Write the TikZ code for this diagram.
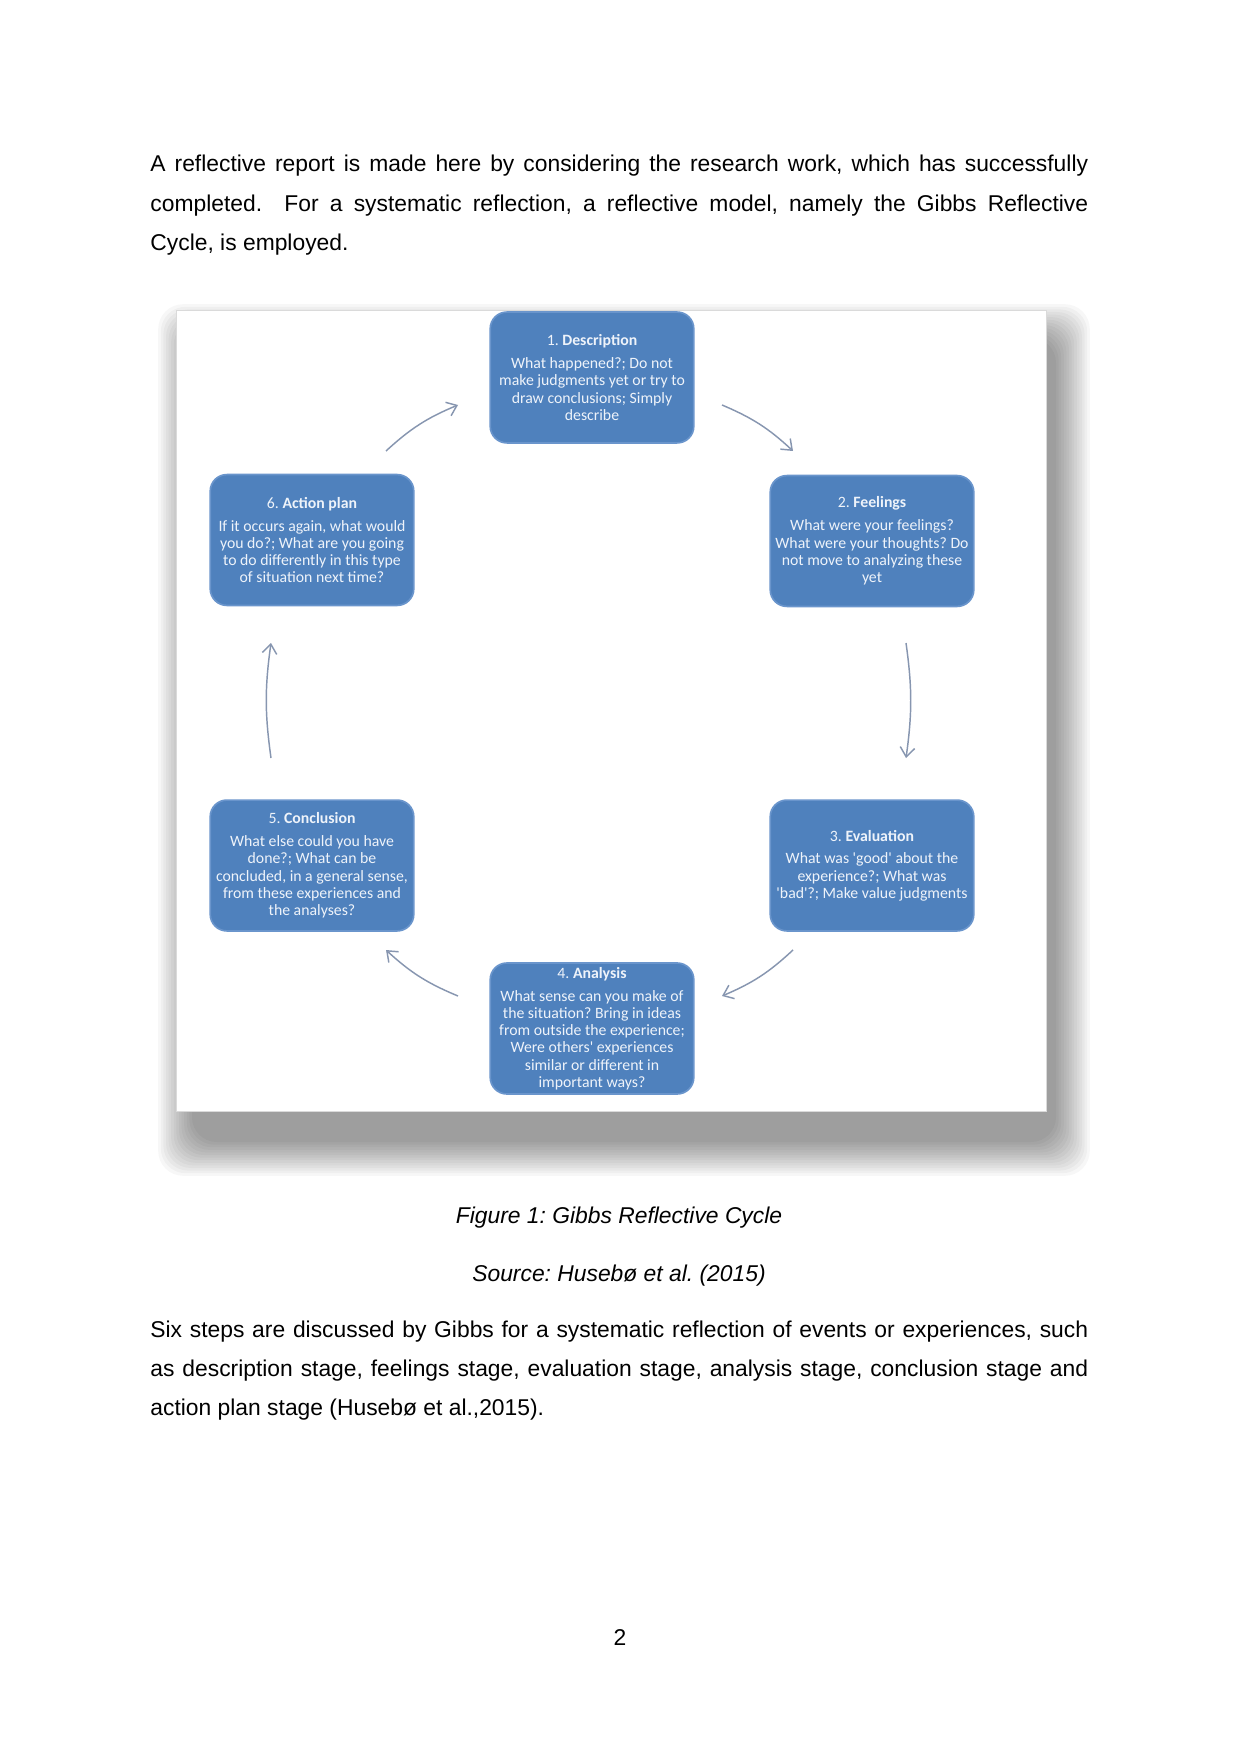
\documentclass[tikz,border=0pt]{standalone}
\usepackage{fontspec}
\setmainfont{Liberation Sans}
\newfontfamily\stagefont{Carlito}
\usetikzlibrary{arrows.meta,positioning}
\definecolor{StageBlue} {HTML}{4F81BD}
\definecolor{StageEdge} {HTML}{6A95CC}
\definecolor{StageText} {HTML}{EEF3FA}
\definecolor{ArrowGray} {HTML}{8796B0}
\definecolor{FrameLine} {HTML}{DADADA}
\tikzset{
  stage/.style={rectangle,rounded corners=8pt,fill=StageBlue,draw=StageEdge,
                line width=0.8pt,minimum width=98pt,minimum height=63pt,
                inner sep=2pt,align=center,text=StageText,
                font=\stagefont\fontsize{7.6}{8.3}\selectfont},
  cyc/.style={-{Straight Barb[length=4.5pt,width=7pt]},line width=0.7pt,
              draw=ArrowGray},
  bodytext/.style={inner sep=0pt,anchor=base west},
  captext/.style={inner sep=0pt,anchor=base,
                  font=\fontsize{11}{19}\selectfont\itshape},
}
\frenchspacing

\begin{document}
\begin{tikzpicture}[x=0.0169218cm,y=0.0169218cm]

  \useasboundingbox (0,0) rectangle (1241,-1754);
  \fill[white] (0,0) rectangle (1241,-1754);

  \node[bodytext] (intro) at (150,-172)
    {\parbox[t]{451.5pt}{\fontsize{11}{19}\selectfont
     A reflective report is made here by considering the research work, which has successfully\linebreak
     completed.\ \ For a systematic reflection, a reflective model, namely the Gibbs Reflective\linebreak
     Cycle, is employed.}};

  % soft shadow under the figure
  \foreach \i in {0,...,13}
    \fill[black,opacity=0.03,rounded corners=12pt]
      (192-2.6*\i,-338+2.6*\i) rectangle (1056+2.6*\i,-1142-2.6*\i);
  \draw[FrameLine,fill=white] (176,-310) rectangle (1046,-1111);

  \node[stage] (desc) at (592,-377.5)
    {1. \textbf{Description}\\[2.7pt]
     What happened?; Do not\\ make judgments yet or try to\\
     draw conclusions; Simply\\ describe};

  \node[stage] (feel) at (872,-541)
    {2. \textbf{Feelings}\\[2.7pt]
     What were your feelings?\\ What were your thoughts? Do\\
     not move to analyzing these\\ yet};

  \node[stage] (eval) at (872,-865.5)
    {3. \textbf{Evaluation}\\[2.7pt]
     What was 'good' about the\\ experience?; What was\\
     'bad'?; Make value judgments};

  \node[stage] (anal) at (592,-1028.5)
    {4. \textbf{Analysis}\\[2.7pt]
     What sense can you make of\\ the situation? Bring in ideas\\
     from outside the experience;\\ Were others' experiences\\
     similar or different in\\ important ways?};

  \node[stage] (conc) at (312,-865.5)
    {5. \textbf{Conclusion}\\[2.7pt]
     What else could you have\\ done?; What can be\\
     concluded, in a general sense,\\ from these experiences and\\
     the analyses?};

  \node[stage] (act) at (312,-540)
    {6. \textbf{Action plan}\\[2.7pt]
     If it occurs again, what would\\ you do?; What are you going\\
     to do differently in this type\\ of situation next time?};

  \coordinate (c12s) at (722,-405);  \coordinate (c12e) at (793,-451);
  \coordinate (c23s) at (906,-643);  \coordinate (c23e) at (906,-758);
  \coordinate (c34s) at (793,-950);  \coordinate (c34e) at (722,-996);
  \coordinate (c45s) at (458,-996);  \coordinate (c45e) at (386,-950);
  \coordinate (c56s) at (271,-758);  \coordinate (c56e) at (271,-643);
  \coordinate (c61s) at (386,-451);  \coordinate (c61e) at (458,-405);

  \draw[cyc] (c12s) to[bend left=10] (c12e);
  \draw[cyc] (c23s) to[bend left=8]  (c23e);
  \draw[cyc] (c34s) to[bend left=10] (c34e);
  \draw[cyc] (c45s) to[bend left=10] (c45e);
  \draw[cyc] (c56s) to[bend left=8]  (c56e);
  \draw[cyc] (c61s) to[bend left=10] (c61e);

  \node[captext] (cap) at (619,-1223) {Figure 1: Gibbs Reflective Cycle};
  \node[captext] (src) at (619,-1281) {Source: Husebø et al. (2015)};

  \node[bodytext] (steps) at (150,-1337)
    {\parbox[t]{451.5pt}{\fontsize{11}{19}\selectfont
     Six steps are discussed by Gibbs for a systematic reflection of events or experiences, such\linebreak
     as description stage, feelings stage, evaluation stage, analysis stage, conclusion stage and\linebreak
     action plan stage (Husebø et al.,2015).}};

  \node[inner sep=0pt,anchor=base,font=\fontsize{11}{13}\selectfont]
    (pnum) at (620,-1645) {2};

\end{tikzpicture}
\end{document}
